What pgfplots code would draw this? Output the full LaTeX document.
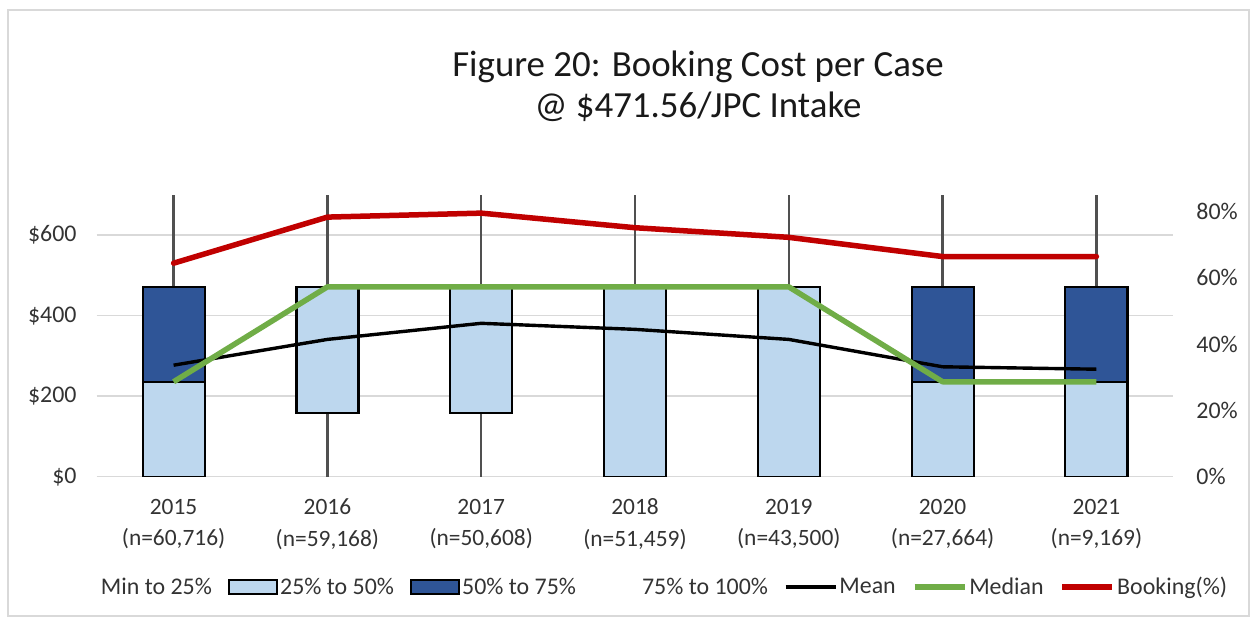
\documentclass[border=0pt]{standalone}
\usepackage{pgfplots}
\usepackage{pgfplotstable}
\usepackage{fontspec}
\setmainfont{Carlito}
\pgfplotsset{compat=1.18}
\definecolor{lightbx}{HTML}{BDD7EE}
\definecolor{darkbx}{HTML}{2F5597}
\definecolor{medgreen}{HTML}{70AD47}
\definecolor{bookred}{HTML}{C00000}
\definecolor{gridc}{HTML}{D9D9D9}
\definecolor{whisk}{HTML}{505050}
\definecolor{txt}{HTML}{333333}

\pgfplotstableread{
x lo q2 q3
0 0 235.78 235.78
1 158 313.56 0
2 158 313.56 0
3 0 471.56 0
4 0 471.56 0
5 0 235.78 235.78
6 0 235.78 235.78
}\boxdata

\pgfplotstableread{
x whisk mean median booking
0 700 277 235.78 64.4
1 700 341 471.56 78.3
2 700 381 471.56 79.5
3 700 366 471.56 75.1
4 700 341 471.56 72.2
5 700 273 235.78 66.4
6 700 267 235.78 66.4
}\linedata

\pgfplotsset{
  common/.style={
    scale only axis,
    width=1076.6bp, height=281.8bp,
    at={(96.7bp,141.3bp)}, anchor=south west,
    xmin=-0.5, xmax=6.5,
  },
}

\begin{document}
\begin{tikzpicture}[x=1bp,y=1bp]
\path[use as bounding box] (0,0) rectangle (1252,618);
\draw[gridc, line width=2bp] (8,2) rectangle (1249,608);

\node[align=center, text=black!90, font=\fontsize{37}{41}\selectfont] at (698,532)
  {Figure 20: Booking Cost per Case\\@ \$471.56/JPC Intake};

% base axis: grid, left ticks, x labels, whiskers
\begin{axis}[common,
  ymin=0, ymax=700,
  axis line style={draw=none},
  tick style={draw=none},
  ymajorgrids,
  major grid style={gridc, line width=1.5bp},
  ytick={0,200,400,600},
  yticklabels={\$0,\$200,\$400,\$600},
  yticklabel style={inner sep=0pt, xshift=-20bp, text=txt, font=\fontsize{24}{28}\selectfont},
  xtick={0,1,2,3,4,5,6},
  xticklabels={{2015\\(n=60,716)},{2016\\(n=59,168)},{2017\\(n=50,608)},{2018\\(n=51,459)},{2019\\(n=43,500)},{2020\\(n=27,664)},{2021\\(n=9,169)}},
  xticklabel style={align=center, inner sep=0pt, yshift=-22bp, text=txt, font=\fontsize{23.5}{32}\selectfont},
]
\addplot[ycomb, whisk, line width=2.4bp, mark=none] table[x=x, y=whisk] {\linedata};
\end{axis}

% stacked boxes
\begin{axis}[common,
  ymin=0, ymax=700,
  hide axis,
  ybar stacked, bar width=62bp,
]
\addplot[draw=none, fill=none] table[x=x, y=lo] {\boxdata};
\addplot[fill=lightbx, draw=black, line width=2.2bp] table[x=x, y=q2] {\boxdata};
\addplot[fill=darkbx, draw=black, line width=2.2bp] table[x=x, y=q3] {\boxdata};
\end{axis}

% mean and median
\begin{axis}[common,
  ymin=0, ymax=700,
  hide axis,
]
\addplot[black, line width=3.4bp, mark=none] table[x=x, y=mean] {\linedata};
\addplot[medgreen, line width=5.5bp, mark=none, line join=round] table[x=x, y=median] {\linedata};
\end{axis}

% right axis: booking percent and legend
\begin{axis}[common,
  ymin=0, ymax=85,
  axis x line=none,
  axis y line*=right,
  y axis line style={draw=none},
  tick style={draw=none},
  ytick={0,20,40,60,80},
  yticklabels={0\%,20\%,40\%,60\%,80\%},
  yticklabel style={inner sep=0pt, xshift=23bp, text=txt, font=\fontsize{24}{28}\selectfont},
  legend columns=7,
  legend style={at={(0.5047,-0.3914)}, anchor=center, draw=none, fill=none,
    font=\fontsize{24}{28}\selectfont, text=txt,
    nodes={inner sep=2bp},
    /tikz/every even column/.append style={column sep=14bp}},
]
\addlegendimage{draw=none, fill=none, legend image code/.code={\path[draw=none, fill=none] (0,-7bp) rectangle (48bp,7bp);}}
\addlegendentry{Min to 25\%}
\addlegendimage{legend image code/.code={\draw[fill=lightbx, draw=black, line width=2.2bp] (0,-7bp) rectangle (48bp,7bp);}}
\addlegendentry{25\% to 50\%}
\addlegendimage{legend image code/.code={\draw[fill=darkbx, draw=black, line width=2.2bp] (0,-7bp) rectangle (48bp,7bp);}}
\addlegendentry{50\% to 75\%}
\addlegendimage{draw=none, fill=none, legend image code/.code={\path[draw=none, fill=none] (0,-7bp) rectangle (48bp,7bp);}}
\addlegendentry{75\% to 100\%}
\addlegendimage{black, line width=3.4bp, legend image code/.code={\draw[black, line width=3.4bp] (0,0) -- (50bp,0);}}
\addlegendentry{Mean}
\addlegendimage{medgreen, line width=5.5bp, legend image code/.code={\draw[medgreen, line width=5.5bp] (0,0) -- (50bp,0);}}
\addlegendentry{Median}
\addlegendimage{bookred, line width=5.5bp, legend image code/.code={\draw[bookred, line width=5.5bp] (0,0) -- (50bp,0);}}
\addlegendentry{Booking(\%)}
\addplot[bookred, line width=5.5bp, mark=none, line cap=round, line join=round, forget plot] table[x=x, y=booking] {\linedata};
\end{axis}
\end{tikzpicture}
\end{document}
